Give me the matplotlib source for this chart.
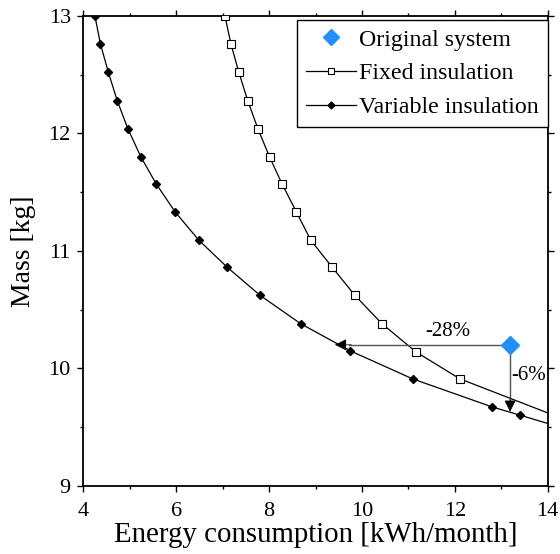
import matplotlib
matplotlib.use("Agg")
import matplotlib.pyplot as plt
from matplotlib.ticker import MultipleLocator

plt.rcParams['font.family'] = ['Liberation Serif', 'DejaVu Serif']

# Data
var_x = [4.25, 4.37, 4.54, 4.73, 4.96, 5.24, 5.57, 5.98, 6.49, 7.10, 7.81, 8.68, 9.74, 11.09, 12.81, 13.41]
var_y = [13.0, 12.76, 12.52, 12.28, 12.04, 11.80, 11.57, 11.33, 11.09, 10.86, 10.62, 10.38, 10.15, 9.91, 9.67, 9.60]
var_end = (14.0, 9.53)

fix_x = [7.05, 7.18, 7.35, 7.54, 7.76, 8.01, 8.28, 8.59, 8.90, 9.36, 9.85, 10.43, 11.16, 12.11]
fix_y = [13.0, 12.76, 12.52, 12.28, 12.04, 11.80, 11.57, 11.33, 11.09, 10.86, 10.62, 10.38, 10.14, 9.91]
fix_end = (14.0, 9.62)

orig_x, orig_y = 13.19, 10.20
arrow_h_end = 9.42
arrow_v_end = 9.63

fig = plt.figure(figsize=(5.6, 5.54), dpi=100)
ax = fig.add_axes([83.3/560, 1-485.7/554, (547.7-83.3)/560, (485.7-16)/554])

# lines
ax.plot(fix_x + [fix_end[0]], fix_y + [fix_end[1]], color='black', lw=0.9, zorder=2)
ax.plot(fix_x, fix_y, ls='none', marker='s', ms=5.5, mfc='white', mec='black', mew=0.8, zorder=3)
ax.plot(var_x + [var_end[0]], var_y + [var_end[1]], color='black', lw=0.9, zorder=2)
ax.plot(var_x, var_y, ls='none', marker='D', ms=4.5, mfc='black', mec='black', zorder=3)

# arrows
ax.plot([orig_x, arrow_h_end + 0.3], [orig_y, orig_y], color='#555555', lw=1.0, zorder=2)
ax.annotate('', xy=(arrow_h_end, orig_y), xytext=(arrow_h_end + 0.35, orig_y),
            arrowprops=dict(arrowstyle='-|>', color='black', lw=0.5, mutation_scale=18,
                            shrinkA=0, shrinkB=0), zorder=4)
ax.plot([orig_x, orig_x], [orig_y, arrow_v_end + 0.08], color='#555555', lw=1.0, zorder=2)
ax.annotate('', xy=(orig_x, arrow_v_end), xytext=(orig_x, arrow_v_end + 0.12),
            arrowprops=dict(arrowstyle='-|>', color='black', lw=0.5, mutation_scale=18,
                            shrinkA=0, shrinkB=0), zorder=4)
ax.plot([orig_x], [orig_y], ls='none', marker='D', ms=9, color='#1E90FF', zorder=5)

ax.text(11.85, 10.31, '-28%', fontsize=15, ha='center', va='center')
ax.text(13.21, 9.94, '-6%', fontsize=15, ha='left', va='center')

# legend handles
h1, = ax.plot([], [], ls='none', marker='D', ms=8, color='#1E90FF', label='Original system')
h2, = ax.plot([], [], color='black', lw=0.9, marker='s', ms=4, mfc='white', mec='black', mew=0.8,
              label='Fixed insulation')
h3, = ax.plot([], [], color='black', lw=0.9, marker='D', ms=3.5, mfc='black', label='Variable insulation')
leg = ax.legend(handles=[h1, h2, h3], loc='upper right', bbox_to_anchor=(1.0, 1 - 4/469.7),
                fontsize=17.2, frameon=True,
                fancybox=False, edgecolor='black', framealpha=1, borderaxespad=0.0,
                handlelength=2.1, handletextpad=0.1, labelspacing=0.5, borderpad=0.38)
leg.get_frame().set_linewidth(1.0)

ax.set_xlim(4, 14)
ax.set_ylim(9, 13)
ax.xaxis.set_major_locator(MultipleLocator(2))
ax.xaxis.set_minor_locator(MultipleLocator(1))
ax.yaxis.set_major_locator(MultipleLocator(1))
ax.yaxis.set_minor_locator(MultipleLocator(0.5))
ax.tick_params(which='both', direction='out', top=True, right=True, labelsize=16, width=1.0)
ax.tick_params(which='major', length=4)
ax.tick_params(which='minor', length=2.5)
ax.tick_params(axis='x', which='major', pad=7.5)
ax.tick_params(axis='y', which='major', pad=5)
for s in ax.spines.values():
    s.set_linewidth(1.3)

ax.set_xlabel('Energy consumption [kWh/month]', fontsize=20.8, labelpad=1)
ax.set_ylabel('Mass [kg]', fontsize=20, labelpad=9)

fig.savefig('out.png', dpi=100)
